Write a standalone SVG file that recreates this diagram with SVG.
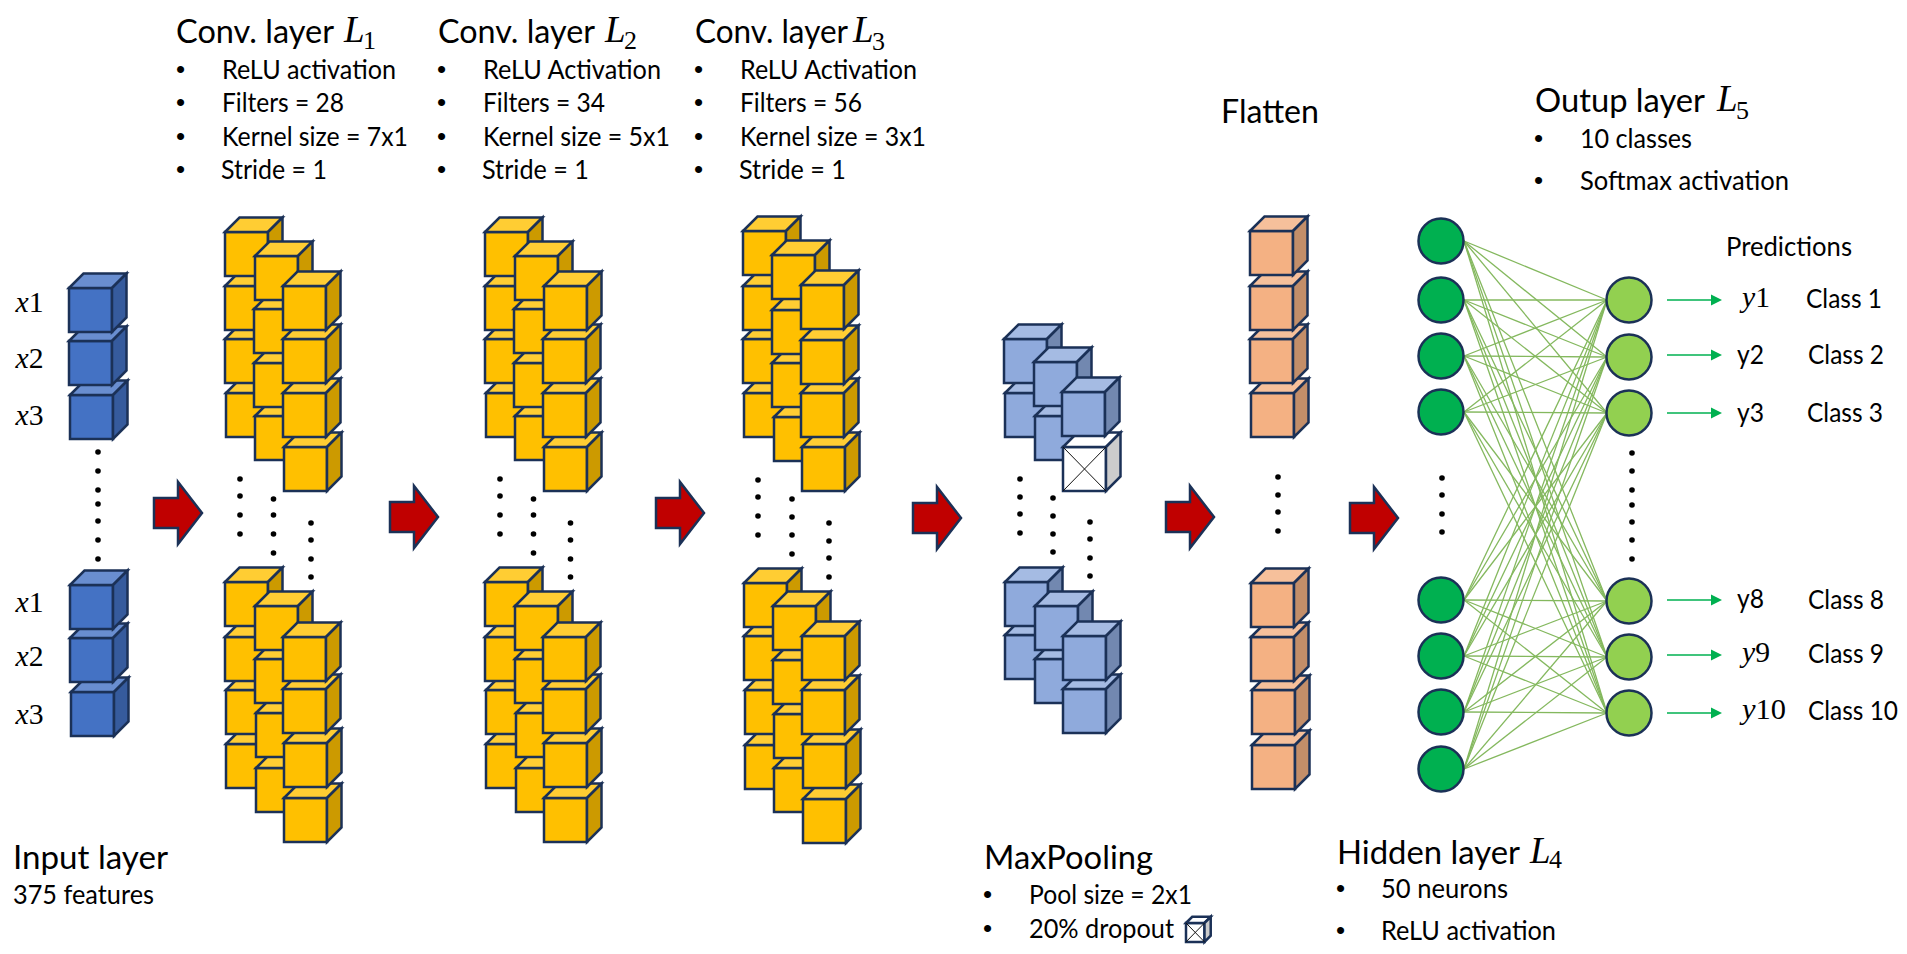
<svg xmlns="http://www.w3.org/2000/svg" width="1907" height="954" viewBox="0 0 1907 954">
<style>
text{font-family:"Lato","Carlito","Open Sans",sans-serif;fill:#000}
.t{font-size:33.500px;transform:translateY(1px)}
.s{font-size:26.500px;transform:translateY(1px)}
.b{font-family:"Liberation Sans",Arial,sans-serif;font-size:26px}
.mi{font-family:"Liberation Serif","Times New Roman",serif;font-style:italic;font-size:37px}
.ms{font-family:"Liberation Serif","Times New Roman",serif;font-style:normal;font-size:26px}
.m{font-family:"Liberation Serif","Times New Roman",serif;font-size:29px}
.v{font-style:italic}
.u{font-style:normal}
.c rect,.c polygon{stroke:#1b3157;stroke-width:2.5;stroke-linejoin:miter;vector-effect:non-scaling-stroke}
.x{stroke:#111;stroke-width:1;vector-effect:non-scaling-stroke}
.d{fill:#000;stroke:none}
.r{fill:#c00000;stroke:#1b3157;stroke-width:2.5;stroke-linejoin:miter}
.n{stroke:#1b3157;stroke-width:2.5}
.h{fill:#00b050}
.o{fill:#92d050}
.e line{stroke:#84b85e;stroke-width:1.3}
.p line{stroke:#00b050;stroke-width:1.5;marker-end:url(#ah)}
</style>
<defs>
<marker id="ah" markerUnits="userSpaceOnUse" markerWidth="12" markerHeight="12" refX="0" refY="6" orient="auto"><polygon points="0,0.5 11,6 0,11.5" fill="#00b050"/></marker>
<g id="cb" class="c"><rect width="43" height="44" fill="#4472c4"/><polygon points="0,0 14.5,-14.5 57.5,-14.5 43,0" fill="#698ed0"/><polygon points="43,0 57.5,-14.5 57.5,29.5 43,44" fill="#365b9d"/></g>
<g id="cy" class="c"><rect width="43" height="44" fill="#ffc000"/><polygon points="0,0 14.5,-14.5 57.5,-14.5 43,0" fill="#ffcd33"/><polygon points="43,0 57.5,-14.5 57.5,29.5 43,44" fill="#cc9a00"/></g>
<g id="cl" class="c"><rect width="43" height="44" fill="#8faadc"/><polygon points="0,0 14.5,-14.5 57.5,-14.5 43,0" fill="#a5bbe3"/><polygon points="43,0 57.5,-14.5 57.5,29.5 43,44" fill="#7288b0"/></g>
<g id="co" class="c"><rect width="43" height="44" fill="#f4b183"/><polygon points="0,0 14.5,-14.5 57.5,-14.5 43,0" fill="#f6c09b"/><polygon points="43,0 57.5,-14.5 57.5,29.5 43,44" fill="#c38e69"/></g>
<g id="cw" class="c"><rect width="43" height="44" fill="#fff"/><polygon points="0,0 14.5,-14.5 57.5,-14.5 43,0" fill="#fff"/><polygon points="43,0 57.5,-14.5 57.5,29.5 43,44" fill="#ccc"/><line class="x" x1="0" y1="0" x2="43" y2="44"/><line class="x" x1="43" y1="0" x2="0" y2="44"/></g>
<circle id="dot" r="2.800" class="d"/>
<polygon id="ra" class="r" points="0,15 24,15 24,-1 48,30 24,61 24,45 0,45"/>
</defs>
<rect width="1907" height="954" fill="#fff"/>

<g id="connectors">
<g id="edges" class="e">
<line x1="1464" y1="241" x2="1607" y2="300"/><line x1="1464" y1="241" x2="1607" y2="357"/><line x1="1464" y1="241" x2="1607" y2="413"/><line x1="1464" y1="241" x2="1607" y2="601"/><line x1="1464" y1="241" x2="1607" y2="657"/><line x1="1464" y1="241" x2="1607" y2="713"/>
<line x1="1464" y1="300" x2="1607" y2="300"/><line x1="1464" y1="300" x2="1607" y2="357"/><line x1="1464" y1="300" x2="1607" y2="413"/><line x1="1464" y1="300" x2="1607" y2="601"/><line x1="1464" y1="300" x2="1607" y2="657"/><line x1="1464" y1="300" x2="1607" y2="713"/>
<line x1="1464" y1="356" x2="1607" y2="300"/><line x1="1464" y1="356" x2="1607" y2="357"/><line x1="1464" y1="356" x2="1607" y2="413"/><line x1="1464" y1="356" x2="1607" y2="601"/><line x1="1464" y1="356" x2="1607" y2="657"/><line x1="1464" y1="356" x2="1607" y2="713"/>
<line x1="1464" y1="412" x2="1607" y2="300"/><line x1="1464" y1="412" x2="1607" y2="357"/><line x1="1464" y1="412" x2="1607" y2="413"/><line x1="1464" y1="412" x2="1607" y2="601"/><line x1="1464" y1="412" x2="1607" y2="657"/><line x1="1464" y1="412" x2="1607" y2="713"/>
<line x1="1464" y1="600" x2="1607" y2="300"/><line x1="1464" y1="600" x2="1607" y2="357"/><line x1="1464" y1="600" x2="1607" y2="413"/><line x1="1464" y1="600" x2="1607" y2="601"/><line x1="1464" y1="600" x2="1607" y2="657"/><line x1="1464" y1="600" x2="1607" y2="713"/>
<line x1="1464" y1="656" x2="1607" y2="300"/><line x1="1464" y1="656" x2="1607" y2="357"/><line x1="1464" y1="656" x2="1607" y2="413"/><line x1="1464" y1="656" x2="1607" y2="601"/><line x1="1464" y1="656" x2="1607" y2="657"/><line x1="1464" y1="656" x2="1607" y2="713"/>
<line x1="1464" y1="712" x2="1607" y2="300"/><line x1="1464" y1="712" x2="1607" y2="357"/><line x1="1464" y1="712" x2="1607" y2="413"/><line x1="1464" y1="712" x2="1607" y2="601"/><line x1="1464" y1="712" x2="1607" y2="657"/><line x1="1464" y1="712" x2="1607" y2="713"/>
<line x1="1464" y1="769" x2="1607" y2="300"/><line x1="1464" y1="769" x2="1607" y2="357"/><line x1="1464" y1="769" x2="1607" y2="413"/><line x1="1464" y1="769" x2="1607" y2="601"/><line x1="1464" y1="769" x2="1607" y2="657"/><line x1="1464" y1="769" x2="1607" y2="713"/>
</g>
<g id="prediction-arrows" class="p">
<line x1="1667" y1="300" x2="1711" y2="300"/><line x1="1667" y1="355" x2="1711" y2="355"/><line x1="1667" y1="413" x2="1711" y2="413"/><line x1="1667" y1="600" x2="1711" y2="600"/><line x1="1667" y1="655" x2="1711" y2="655"/><line x1="1667" y1="713" x2="1711" y2="713"/>
</g>
<g id="flow-arrows">
<use href="#ra" x="154" y="483"/><use href="#ra" x="390" y="487"/><use href="#ra" x="656" y="483"/><use href="#ra" x="913" y="488"/><use href="#ra" x="1166" y="487"/><use href="#ra" x="1350" y="488"/>
</g>
</g>

<g id="input-layer">
<use href="#cb" x="70" y="395"/><use href="#cb" x="69" y="341"/><use href="#cb" x="69" y="288"/>
<use href="#cb" x="71" y="692"/><use href="#cb" x="70" y="638"/><use href="#cb" x="70" y="585"/>
<use href="#dot" x="98" y="452"/><use href="#dot" x="98" y="471"/><use href="#dot" x="98" y="490"/><use href="#dot" x="98" y="504"/><use href="#dot" x="98" y="521"/><use href="#dot" x="98" y="540"/><use href="#dot" x="98" y="559"/>
<text class="m" x="15.500" y="312" textLength="28" lengthAdjust="spacingAndGlyphs"><tspan class="v">x</tspan>1</text>
<text class="m" x="15.500" y="368" textLength="28" lengthAdjust="spacingAndGlyphs"><tspan class="v">x</tspan>2</text>
<text class="m" x="15.500" y="425" textLength="28" lengthAdjust="spacingAndGlyphs"><tspan class="v">x</tspan>3</text>
<text class="m" x="15.500" y="612" textLength="28" lengthAdjust="spacingAndGlyphs"><tspan class="v">x</tspan>1</text>
<text class="m" x="15.500" y="666" textLength="28" lengthAdjust="spacingAndGlyphs"><tspan class="v">x</tspan>2</text>
<text class="m" x="15.500" y="724" textLength="28" lengthAdjust="spacingAndGlyphs"><tspan class="v">x</tspan>3</text>
<text class="t" x="13" y="868" textLength="155" lengthAdjust="spacingAndGlyphs">Input layer</text>
<text class="s" x="13" y="903" textLength="141" lengthAdjust="spacingAndGlyphs">375 features</text>
</g>

<g id="conv-layer-1">
<use href="#cy" x="226" y="393"/><use href="#cy" x="225" y="339"/><use href="#cy" x="225" y="286"/><use href="#cy" x="225" y="232"/>
<use href="#cy" x="255" y="416"/><use href="#cy" x="254" y="363"/><use href="#cy" x="254" y="309"/><use href="#cy" x="255" y="256"/>
<use href="#cy" x="284" y="447"/><use href="#cy" x="283" y="393"/><use href="#cy" x="283" y="339"/><use href="#cy" x="283" y="286"/>
<use href="#cy" x="226" y="744"/><use href="#cy" x="226" y="690"/><use href="#cy" x="225" y="637"/><use href="#cy" x="225" y="582"/>
<use href="#cy" x="256" y="768"/><use href="#cy" x="256" y="713"/><use href="#cy" x="255" y="659"/><use href="#cy" x="255" y="606"/>
<use href="#cy" x="284" y="798"/><use href="#cy" x="284" y="743"/><use href="#cy" x="283" y="689"/><use href="#cy" x="283" y="637"/>
<use href="#dot" x="240" y="479"/><use href="#dot" x="240" y="496"/><use href="#dot" x="240" y="515"/><use href="#dot" x="240" y="534"/>
<use href="#dot" x="273.500" y="499"/><use href="#dot" x="273.500" y="515"/><use href="#dot" x="273.500" y="534"/><use href="#dot" x="273.500" y="553"/>
<use href="#dot" x="311" y="523"/><use href="#dot" x="311" y="540"/><use href="#dot" x="311" y="559"/><use href="#dot" x="311" y="577"/>
<text class="t" x="176" y="42" textLength="158" lengthAdjust="spacingAndGlyphs">Conv. layer</text><text class="mi" x="344" y="42">L<tspan class="ms" x="363" y="49">1</tspan></text>
<text class="b" x="176" y="78">•</text><text class="b" x="176" y="111">•</text><text class="b" x="176" y="145">•</text><text class="b" x="176" y="178">•</text>
<text class="s" x="222" y="78" textLength="174" lengthAdjust="spacingAndGlyphs">ReLU activation</text>
<text class="s" x="222" y="111" textLength="122" lengthAdjust="spacingAndGlyphs">Filters = 28</text>
<text class="s" x="222" y="145" textLength="186" lengthAdjust="spacingAndGlyphs">Kernel size = 7x1</text>
<text class="s" x="221" y="178" textLength="106" lengthAdjust="spacingAndGlyphs">Stride = 1</text>
</g>

<g id="conv-layer-2">
<use href="#cy" x="486" y="393"/><use href="#cy" x="485" y="339"/><use href="#cy" x="485" y="286"/><use href="#cy" x="485" y="232"/>
<use href="#cy" x="515" y="416"/><use href="#cy" x="514" y="363"/><use href="#cy" x="514" y="309"/><use href="#cy" x="515" y="256"/>
<use href="#cy" x="544" y="447"/><use href="#cy" x="543" y="393"/><use href="#cy" x="543" y="339"/><use href="#cy" x="544" y="286"/>
<use href="#cy" x="486" y="744"/><use href="#cy" x="486" y="690"/><use href="#cy" x="485" y="637"/><use href="#cy" x="485" y="582"/>
<use href="#cy" x="516" y="768"/><use href="#cy" x="516" y="713"/><use href="#cy" x="515" y="659"/><use href="#cy" x="515" y="606"/>
<use href="#cy" x="544" y="798"/><use href="#cy" x="544" y="743"/><use href="#cy" x="543" y="689"/><use href="#cy" x="543" y="637"/>
<use href="#dot" x="500" y="479"/><use href="#dot" x="500" y="496"/><use href="#dot" x="500" y="515"/><use href="#dot" x="500" y="534"/>
<use href="#dot" x="533.500" y="499"/><use href="#dot" x="533.500" y="515"/><use href="#dot" x="533.500" y="534"/><use href="#dot" x="533.500" y="553"/>
<use href="#dot" x="570.500" y="523"/><use href="#dot" x="570.500" y="540"/><use href="#dot" x="570.500" y="559"/><use href="#dot" x="570.500" y="577"/>
<text class="t" x="438" y="42" textLength="157" lengthAdjust="spacingAndGlyphs">Conv. layer</text><text class="mi" x="605" y="42">L<tspan class="ms" x="624" y="49">2</tspan></text>
<text class="b" x="437" y="78">•</text><text class="b" x="437" y="111">•</text><text class="b" x="437" y="145">•</text><text class="b" x="437" y="178">•</text>
<text class="s" x="483" y="78" textLength="178" lengthAdjust="spacingAndGlyphs">ReLU Activation</text>
<text class="s" x="483" y="111" textLength="122" lengthAdjust="spacingAndGlyphs">Filters = 34</text>
<text class="s" x="483" y="145" textLength="187" lengthAdjust="spacingAndGlyphs">Kernel size = 5x1</text>
<text class="s" x="482" y="178" textLength="107" lengthAdjust="spacingAndGlyphs">Stride = 1</text>
</g>

<g id="conv-layer-3">
<use href="#cy" x="744" y="393"/><use href="#cy" x="743" y="339"/><use href="#cy" x="743" y="286"/><use href="#cy" x="743" y="231"/>
<use href="#cy" x="774" y="417"/><use href="#cy" x="772" y="363"/><use href="#cy" x="772" y="310"/><use href="#cy" x="772" y="255"/>
<use href="#cy" x="802" y="447"/><use href="#cy" x="801" y="393"/><use href="#cy" x="801" y="340"/><use href="#cy" x="801" y="285"/>
<use href="#cy" x="745" y="745"/><use href="#cy" x="745" y="690"/><use href="#cy" x="744" y="636"/><use href="#cy" x="744" y="583"/>
<use href="#cy" x="774" y="768"/><use href="#cy" x="774" y="714"/><use href="#cy" x="773" y="660"/><use href="#cy" x="773" y="606"/>
<use href="#cy" x="803" y="799"/><use href="#cy" x="803" y="744"/><use href="#cy" x="802" y="690"/><use href="#cy" x="802" y="636"/>
<use href="#dot" x="758" y="480"/><use href="#dot" x="758" y="497"/><use href="#dot" x="758" y="516"/><use href="#dot" x="758" y="535"/>
<use href="#dot" x="792" y="499"/><use href="#dot" x="792" y="517"/><use href="#dot" x="792" y="535"/><use href="#dot" x="792" y="554"/>
<use href="#dot" x="829" y="523"/><use href="#dot" x="829" y="541"/><use href="#dot" x="829" y="558"/><use href="#dot" x="829" y="577"/>
<text class="t" x="695" y="42" textLength="153" lengthAdjust="spacingAndGlyphs">Conv. layer</text><text class="mi" x="853" y="42">L<tspan class="ms" x="872" y="50">3</tspan></text>
<text class="b" x="694" y="78">•</text><text class="b" x="694" y="111">•</text><text class="b" x="694" y="145">•</text><text class="b" x="694" y="178">•</text>
<text class="s" x="740" y="78" textLength="177" lengthAdjust="spacingAndGlyphs">ReLU Activation</text>
<text class="s" x="740" y="111" textLength="122" lengthAdjust="spacingAndGlyphs">Filters = 56</text>
<text class="s" x="740" y="145" textLength="186" lengthAdjust="spacingAndGlyphs">Kernel size = 3x1</text>
<text class="s" x="739" y="178" textLength="107" lengthAdjust="spacingAndGlyphs">Stride = 1</text>
</g>

<g id="maxpooling">
<use href="#cl" x="1005" y="393"/><use href="#cl" x="1004" y="339"/>
<use href="#cl" x="1035" y="416"/><use href="#cl" x="1034" y="362"/>
<use href="#cw" x="1063" y="447"/><use href="#cl" x="1062" y="392"/>
<use href="#cl" x="1005" y="635"/><use href="#cl" x="1005" y="582"/>
<use href="#cl" x="1035" y="659"/><use href="#cl" x="1035" y="606"/>
<use href="#cl" x="1063" y="689"/><use href="#cl" x="1063" y="636"/>
<use href="#dot" x="1020" y="479"/><use href="#dot" x="1020" y="497"/><use href="#dot" x="1020" y="514"/><use href="#dot" x="1020" y="533"/>
<use href="#dot" x="1053" y="498"/><use href="#dot" x="1053" y="516"/><use href="#dot" x="1053" y="534"/><use href="#dot" x="1053" y="552"/>
<use href="#dot" x="1090" y="522"/><use href="#dot" x="1090" y="539"/><use href="#dot" x="1090" y="558"/><use href="#dot" x="1090" y="576"/>
<text class="t" x="984" y="868" textLength="169" lengthAdjust="spacingAndGlyphs">MaxPooling</text>
<text class="b" x="983" y="903">•</text><text class="b" x="983" y="937">•</text>
<text class="s" x="1029" y="903" textLength="163" lengthAdjust="spacingAndGlyphs">Pool size = 2x1</text>
<text class="s" x="1029" y="937" textLength="145" lengthAdjust="spacingAndGlyphs">20% dropout</text>
<use href="#cw" transform="translate(1186,923) scale(.43)"/>
</g>

<g id="flatten">
<use href="#co" x="1251" y="393"/><use href="#co" x="1250" y="339"/><use href="#co" x="1250" y="286"/><use href="#co" x="1250" y="231"/>
<use href="#co" x="1252" y="745"/><use href="#co" x="1252" y="690"/><use href="#co" x="1251" y="637"/><use href="#co" x="1251" y="583"/>
<use href="#dot" x="1278" y="477"/><use href="#dot" x="1278" y="495"/><use href="#dot" x="1278" y="512"/><use href="#dot" x="1278" y="531"/>
<text class="t" x="1221" y="122" textLength="98" lengthAdjust="spacingAndGlyphs">Flatten</text>
</g>

<g id="hidden-layer">
<circle class="n h" cx="1441" cy="241" r="22.500"/><circle class="n h" cx="1441" cy="300" r="22.500"/><circle class="n h" cx="1441" cy="356" r="22.500"/><circle class="n h" cx="1441" cy="412" r="22.500"/>
<circle class="n h" cx="1441" cy="600" r="22.500"/><circle class="n h" cx="1441" cy="656" r="22.500"/><circle class="n h" cx="1441" cy="712" r="22.500"/><circle class="n h" cx="1441" cy="769" r="22.500"/>
<use href="#dot" x="1442" y="478"/><use href="#dot" x="1442" y="495"/><use href="#dot" x="1442" y="514"/><use href="#dot" x="1442" y="532"/>
<text class="t" x="1337" y="863" textLength="183" lengthAdjust="spacingAndGlyphs">Hidden layer</text><text class="mi" x="1530" y="863">L<tspan class="ms" x="1549" y="868">4</tspan></text>
<text class="b" x="1336" y="897">•</text><text class="b" x="1336" y="939">•</text>
<text class="s" x="1381" y="897" textLength="127" lengthAdjust="spacingAndGlyphs">50 neurons</text>
<text class="s" x="1381" y="939" textLength="175" lengthAdjust="spacingAndGlyphs">ReLU activation</text>
</g>

<g id="output-layer">
<circle class="n o" cx="1629" cy="300" r="22.500"/><circle class="n o" cx="1629" cy="357" r="22.500"/><circle class="n o" cx="1629" cy="413" r="22.500"/>
<circle class="n o" cx="1629" cy="601" r="22.500"/><circle class="n o" cx="1629" cy="657" r="22.500"/><circle class="n o" cx="1629" cy="713" r="22.500"/>
<use href="#dot" x="1632" y="453"/><use href="#dot" x="1632" y="471"/><use href="#dot" x="1632" y="490"/><use href="#dot" x="1632" y="505"/><use href="#dot" x="1632" y="522"/><use href="#dot" x="1632" y="540"/><use href="#dot" x="1632" y="559"/>
<text class="t" x="1535" y="111" textLength="170" lengthAdjust="spacingAndGlyphs">Outup layer</text><text class="mi" x="1717" y="111">L<tspan class="ms" x="1736" y="119">5</tspan></text>
<text class="b" x="1534" y="147">•</text><text class="b" x="1534" y="189">•</text>
<text class="s" x="1580" y="147" textLength="112" lengthAdjust="spacingAndGlyphs">10 classes</text>
<text class="s" x="1580" y="189" textLength="209" lengthAdjust="spacingAndGlyphs">Softmax activation</text>
<text class="s" x="1726" y="255" textLength="126" lengthAdjust="spacingAndGlyphs">Predictions</text>
<text class="m" x="1742" y="307" textLength="28" lengthAdjust="spacingAndGlyphs"><tspan class="v">y</tspan>1</text>
<text class="s" x="1737" y="363" textLength="27" lengthAdjust="spacingAndGlyphs">y2</text>
<text class="s" x="1737" y="421" textLength="27" lengthAdjust="spacingAndGlyphs">y3</text>
<text class="s" x="1737" y="607" textLength="27" lengthAdjust="spacingAndGlyphs">y8</text>
<text class="m" x="1742" y="662" textLength="28" lengthAdjust="spacingAndGlyphs"><tspan class="v">y</tspan>9</text>
<text class="m" x="1742" y="719" textLength="44" lengthAdjust="spacingAndGlyphs"><tspan class="v">y</tspan>10</text>
<text class="s" x="1806" y="307" textLength="76" lengthAdjust="spacingAndGlyphs">Class 1</text>
<text class="s" x="1808" y="363" textLength="76" lengthAdjust="spacingAndGlyphs">Class 2</text>
<text class="s" x="1807" y="421" textLength="76" lengthAdjust="spacingAndGlyphs">Class 3</text>
<text class="s" x="1808" y="608" textLength="76" lengthAdjust="spacingAndGlyphs">Class 8</text>
<text class="s" x="1808" y="662" textLength="76" lengthAdjust="spacingAndGlyphs">Class 9</text>
<text class="s" x="1808" y="719" textLength="90" lengthAdjust="spacingAndGlyphs">Class 10</text>
</g>
</svg>
